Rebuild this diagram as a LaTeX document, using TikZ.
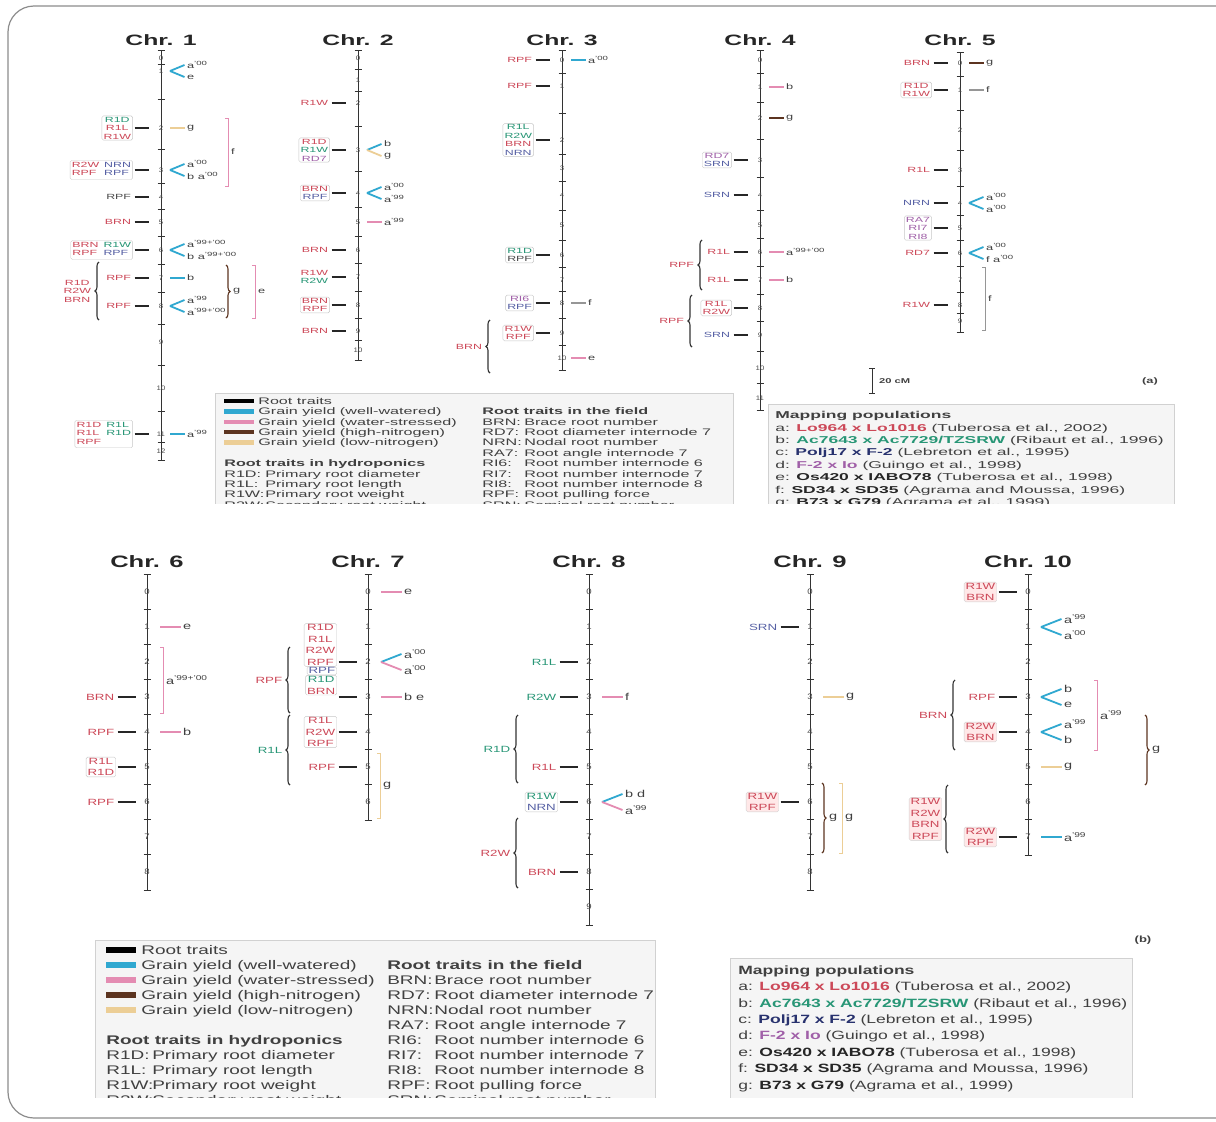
\documentclass[tikz,border=0pt]{standalone}
\usepackage{fontspec}
\setmainfont{Liberation Sans}
\usetikzlibrary{calc,positioning,decorations.pathreplacing}

\definecolor{cred}{RGB}{204,72,88}
\definecolor{cgrn}{RGB}{40,150,118}
\definecolor{cblu}{RGB}{86,96,164}
\definecolor{cpur}{RGB}{160,96,168}
\definecolor{cnavy}{RGB}{40,50,110}
\definecolor{qww}{RGB}{48,168,208}
\definecolor{qws}{RGB}{228,140,178}
\definecolor{qhn}{RGB}{92,52,32}
\definecolor{qln}{RGB}{236,206,150}
\definecolor{qgr}{RGB}{150,150,150}

\newcommand{\cR}[1]{\textcolor{cred}{#1}}
\newcommand{\cG}[1]{\textcolor{cgrn}{#1}}
\newcommand{\cB}[1]{\textcolor{cblu}{#1}}
\newcommand{\cP}[1]{\textcolor{cpur}{#1}}
\newcommand{\cK}[1]{\textcolor{black!70}{#1}}
\newcommand{\yr}[1]{\textsuperscript{’#1}}
\newcommand{\twocol}[1]{\begin{tabular}{@{}l@{\hspace{3pt}}l@{}}#1\end{tabular}}

\tikzset{
  axis/.style={line width=0.9pt, black!80},
  rootdash/.style={line width=2.8pt, black!85},
  qtl/.style={line width=1.8pt},
  box/.style={draw=black!22, fill=white, rounded corners=1.5pt},
  pbox/.style={draw=black!18, fill=red!9, rounded corners=1.5pt},
  lbrc/.style={decorate, decoration={brace, amplitude=4pt}, line width=1.1pt, black!80},
  rbrc/.style={decorate, decoration={brace, amplitude=4pt}, line width=1.1pt, qhn},
  brk/.style={line width=0.9pt},
  legbox/.style={draw=black!18, fill=black!4},
  frame/.style={draw=black!45, line width=1.2pt, rounded corners=26pt}
}

% one chromosome: name, x, title y, top, bottom, bin positions, title
\newcommand{\chrom}[7]{%
  \node[title] (#1t) at (#2,#3) {#7};
  \coordinate (#1top) at (#2,#4);
  \coordinate (#1bot) at (#2,#5);
  \draw[axis] (#1top) -- (#1bot);
  \draw[axis] ([xshift=-3.5pt]#1top) -- ([xshift=3.5pt]#1top);
  \draw[axis] ([xshift=-3.5pt]#1bot) -- ([xshift=3.5pt]#1bot);
  \foreach \yy [count=\k from 0, remember=\yy as \yp (initially #4)] in {#6} {
    \coordinate (#1-\k) at (#2,\yy);
    \node[digit] (#1n\k) at (#1-\k) {\k};
    \ifnum\k>0
      \coordinate (#1h\k) at (#2,{(\yy+\yp)/2});
      \draw[axis] ([xshift=-3.5pt]#1h\k) -- ([xshift=3.5pt]#1h\k);
    \fi
  }}
% root trait on the left of a bin
\newcommand{\lmark}[3][]{%
  \node[lab,#1,anchor=east] (#2L) at ([xshift=-\ldist]#2) {#3};
  \draw[rootdash] ([xshift=1.5pt]#2L.east) -- ([xshift=-\lend]#2);}
% yield QTL on the right of a bin
\newcommand{\qdash}[3]{%
  \node[rlab,anchor=west] (#1R) at ([xshift=\rdist]#1) {#3};
  \draw[qtl,#2] ([xshift=\rbeg]#1) -- ([xshift=-1.5pt]#1R.west);}
\newcommand{\qsplit}[5]{%
  \node[rlab,anchor=west] (#1Ra) at ([xshift=\rdist,yshift=\sph]#1) {#4};
  \node[rlab,anchor=west] (#1Rb) at ([xshift=\rdist,yshift=-\sph]#1) {#5};
  \draw[qtl,#2] ([xshift=\rbeg]#1) -- ([xshift=-1.5pt]#1Ra.west);
  \draw[qtl,#3] ([xshift=\rbeg]#1) -- ([xshift=-1.5pt]#1Rb.west);}
\newcommand{\qbrk}[6]{%
  \draw[brk,#2] ({#3-3},#4) -- (#3,#4) -- (#3,#5) -- ({#3-3},#5);
  \node[rlab,anchor=west] (#1) at ({#3+2},{(#4+#5)/2}) {#6};}
\newcommand{\qbrace}[6]{%
  \draw[rbrc,#2] (#3,#4) -- (#3,#5);
  \node[rlab,anchor=west] (#1) at ({#3+6},{(#4+#5)/2}) {#6};}
\newcommand{\tbrace}[6][]{%
  \draw[lbrc] (#3,#5) -- (#3,#4);
  \node[lab,#1,anchor=east] (#2) at ({#3-6},{(#4+#5)/2}) {#6};}

\begin{document}
\begin{tikzpicture}[x=1pt,y=-1pt]
\useasboundingbox (0,0) rectangle (1216,1122);

% ---------------- (a)
\begin{scope}[
  title/.style={font=\fontsize{15}{15}\selectfont\bfseries, text=black!85, xscale=1.65},
  lab/.style={font=\fontsize{7.5}{8.5}\selectfont, inner sep=1pt, align=center, xscale=1.65},
  rlab/.style={font=\fontsize{8}{9}\selectfont, text=black!75, inner sep=0.5pt, xscale=1.6},
  digit/.style={font=\fontsize{6.5}{7}\selectfont, text=black!70, inner sep=0pt, xscale=1.2},
  legt/.style={font=\fontsize{9.5}{10}\selectfont, text=black!75, inner sep=0pt, xscale=1.7},
  legh/.style={legt, font=\fontsize{9.5}{10}\selectfont\bfseries},
  mapt/.style={font=\fontsize{10}{11}\selectfont, text=black!75, inner sep=0pt, xscale=1.75}]
\def\ldist{28pt}\def\lend{12pt}\def\rdist{25pt}\def\rbeg{9pt}\def\sph{6pt}
\clip (0,0) rectangle (1216,503);

\chrom{c1}{161}{40}{50}{460}{58,71,128,170,197,222,250,278,306,342,388,434,451}{Chr. 1}
\qsplit{c1-1}{qww}{qww}{a\yr{00}}{e}
\lmark[box]{c1-2}{\cG{R1D}\\\cR{R1L}\\\cR{R1W}}
\qdash{c1-2}{qln}{g}
\lmark[box]{c1-3}{\twocol{\cR{R2W}&\cB{NRN}\\\cR{RPF}&\cB{RPF}}}
\qsplit{c1-3}{qww}{qww}{a\yr{00}}{b a\yr{00}}
\qbrk{c1f}{qws}{228}{118}{186}{f}
\lmark{c1-4}{\cK{RPF}}
\lmark{c1-5}{\cR{BRN}}
\lmark[box]{c1-6}{\twocol{\cR{BRN}&\cG{R1W}\\\cR{RPF}&\cB{RPF}}}
\qsplit{c1-6}{qww}{qww}{a\yr{99+’00}}{b a\yr{99+’00}}
\lmark{c1-7}{\cR{RPF}}
\qdash{c1-7}{qww}{b}
\lmark{c1-8}{\cR{RPF}}
\qsplit{c1-8}{qww}{qww}{a\yr{99}}{a\yr{99+’00}}
\tbrace{c1b}{99}{262}{320}{\cR{R1D}\\\cR{R2W}\\\cR{BRN}}
\qbrace{c1g}{}{226}{265}{318}{g}
\qbrk{c1e}{qws}{255}{265}{318}{e}
\lmark[box]{c1-11}{\twocol{\cR{R1D}&\cG{R1L}\\\cR{R1L}&\cG{R1D}\\\cR{RPF}&}}
\qdash{c1-11}{qww}{a\yr{99}}

\chrom{c2}{358}{40}{50}{360}{58,80,103,150,193,222,250,277,305,331,350}{Chr. 2}
\lmark{c2-2}{\cR{R1W}}
\lmark[box]{c2-3}{\cR{R1D}\\\cG{R1W}\\\cP{RD7}}
\qsplit{c2-3}{qww}{qln}{b}{g}
\lmark[box]{c2-4}{\cR{BRN}\\\cB{RPF}}
\qsplit{c2-4}{qww}{qww}{a\yr{00}}{a\yr{99}}
\qdash{c2-5}{qws}{a\yr{99}}
\lmark{c2-6}{\cR{BRN}}
\lmark{c2-7}{\cR{R1W}\\\cG{R2W}}
\lmark[box]{c2-8}{\cR{BRN}\\\cR{RPF}}
\lmark{c2-9}{\cR{BRN}}

\chrom{c3}{562}{40}{50}{370}{60,86,140,168,195,225,255,280,303,333,358}{Chr. 3}
\lmark{c3-0}{\cR{RPF}}
\qdash{c3-0}{qww}{a\yr{00}}
\lmark{c3-1}{\cR{RPF}}
\lmark[box]{c3-2}{\cG{R1L}\\\cG{R2W}\\\cR{BRN}\\\cB{NRN}}
\lmark[box]{c3-6}{\cG{R1D}\\\cK{RPF}}
\lmark[box]{c3-8}{\cP{RI6}\\\cB{RPF}}
\qdash{c3-8}{qgr}{f}
\lmark[box]{c3-9}{\cR{R1W}\\\cR{RPF}}
\tbrace{c3b}{490}{320}{373}{\cR{BRN}}
\qdash{c3-10}{qws}{e}

\chrom{c4}{760}{40}{50}{410}{60,87,118,160,195,225,252,280,308,335,368,398}{Chr. 4}
\qdash{c4-1}{qws}{b}
\qdash{c4-2}{qhn}{g}
\lmark[box]{c4-3}{\cP{RD7}\\\cB{SRN}}
\lmark{c4-4}{\cB{SRN}}
\lmark{c4-6}{\cR{R1L}}
\qdash{c4-6}{qws}{a\yr{99+’00}}
\lmark{c4-7}{\cR{R1L}}
\qdash{c4-7}{qws}{b}
\tbrace{c4b1}{702}{240}{290}{\cR{RPF}}
\lmark[box]{c4-8}{\cR{R1L}\\\cR{R2W}}
\lmark{c4-9}{\cB{SRN}}
\tbrace{c4b2}{692}{295}{347}{\cR{RPF}}

\chrom{c5}{960}{40}{52}{332}{63,90,130,170,203,228,253,280,305,321}{Chr. 5}
\lmark{c5-0}{\cR{BRN}}
\qdash{c5-0}{qhn}{g}
\lmark[box]{c5-1}{\cR{R1D}\\\cR{R1W}}
\qdash{c5-1}{qgr}{f}
\lmark{c5-3}{\cR{R1L}}
\lmark{c5-4}{\cB{NRN}}
\qsplit{c5-4}{qww}{qww}{a\yr{00}}{a\yr{00}}
\lmark[box]{c5-5}{\cP{RA7}\\\cP{RI7}\\\cP{RI8}}
\lmark{c5-6}{\cR{RD7}}
\qsplit{c5-6}{qww}{qww}{a\yr{00}}{f a\yr{00}}
\qbrk{c5f}{qgr}{985}{267}{330}{f}
\lmark{c5-8}{\cR{R1W}}

% scale bar
\draw[axis] (872,368) -- (872,393);
\draw[axis] (869,368) -- (875,368);
\draw[axis] (869,393) -- (875,393);
\node[rlab, font=\fontsize{7}{8}\selectfont\bfseries, anchor=west] (cm) at (878,381) {20 cM};
\node[rlab, font=\fontsize{8}{9}\selectfont\bfseries] (pa) at (1150,381) {(a)};

% legend
\draw[legbox] (215,393) rectangle (733,520);
\foreach \col/\txt [count=\k from 0] in {black/Root traits, qww/Grain yield (well-watered), qws/Grain yield (water-stressed), qhn/Grain yield (high-nitrogen), qln/Grain yield (low-nitrogen)} {
  \draw[line width=4.5pt,\col] (224,{401+10.4*\k}) -- (254,{401+10.4*\k});
  \node[legt,anchor=base west] (ka\k) at (258,{401+10.4*\k+3.3}) {\txt};
}
\node[legh,anchor=base west] (kh) at (224,{401+10.4*6+3.3}) {Root traits in hydroponics};
\foreach \ab/\ds [count=\k from 7] in {R1D:/Primary root diameter, R1L:/Primary root length, R1W:/Primary root weight, R2W:/Secondary root weight} {
  \node[legt,anchor=base west] (kl\k) at (224,{401+10.4*\k+3.3}) {\ab};
  \node[legt,anchor=base west] (kd\k) at (265,{401+10.4*\k+3.3}) {\ds};
}
\node[legh,anchor=base west] (kf) at (482,{401+10.4+3.3}) {Root traits in the field};
\foreach \ab/\ds [count=\k from 2] in {BRN:/Brace root number, RD7:/Root diameter internode 7, NRN:/Nodal root number, RA7:/Root angle internode 7, RI6:/Root number internode 6, RI7:/Root number internode 7, RI8:/Root number internode 8, RPF:/Root pulling force, SRN:/Seminal root number} {
  \node[legt,anchor=base west] (kr\k) at (482,{401+10.4*\k+3.3}) {\ab};
  \node[legt,anchor=base west] (kq\k) at (524,{401+10.4*\k+3.3}) {\ds};
}

% mapping populations
\draw[legbox] (768,404) rectangle (1174,520);
\node[mapt,font=\fontsize{10}{11}\selectfont\bfseries,anchor=base west] (mh) at (775,{415+3.6}) {Mapping populations};
\foreach \l/\p/\r [count=\k] in {a/{\color{cred}Lo964 x Lo1016}/{(Tuberosa et al., 2002)}, b/{\color{cgrn}Ac7643 x Ac7729/TZSRW}/{(Ribaut et al., 1996)}, c/{\color{cnavy}Polj17 x F-2}/{(Lebreton et al., 1995)}, d/{\color{cpur}F-2 x Io}/{(Guingo et al., 1998)}, e/{\color{black!85}Os420 x IABO78}/{(Tuberosa et al., 1998)}, f/{\color{black!85}SD34 x SD35}/{(Agrama and Moussa, 1996)}, g/{\color{black!85}B73 x G79}/{(Agrama et al., 1999)}} {
  \node[mapt,anchor=base west] (m\l) at (775,{415+12.4*\k+3.6}) {\l: {\bfseries\p} \r};
}
\end{scope}

% ---------------- (b)
\begin{scope}[
  title/.style={font=\fontsize{16.5}{16.5}\selectfont\bfseries, text=black!85, xscale=1.55},
  lab/.style={font=\fontsize{9}{11.5}\selectfont, inner sep=1pt, align=center, xscale=1.48},
  rlab/.style={font=\fontsize{10}{11}\selectfont, text=black!75, inner sep=0.5pt, xscale=1.45},
  digit/.style={font=\fontsize{8}{8}\selectfont, text=black!70, inner sep=0pt, xscale=1.2},
  legt/.style={font=\fontsize{12.5}{13}\selectfont, text=black!75, inner sep=0pt, xscale=1.52},
  legh/.style={legt, font=\fontsize{12.5}{13}\selectfont\bfseries},
  mapt/.style={font=\fontsize{12}{13}\selectfont, text=black!75, inner sep=0pt, xscale=1.46}]
\def\ldist{31pt}\def\lend{11pt}\def\rdist{35pt}\def\rbeg{13pt}\def\sph{8pt}
\clip (0,0) rectangle (1216,1097);

\chrom{c6}{147}{562}{574}{890}{592,627,662,697,732,767,802,837,872}{Chr. 6}
\qdash{c6-1}{qws}{e}
\qbrk{c6a}{qws}{163}{647}{713}{a\yr{99+’00}}
\lmark{c6-3}{\cR{BRN}}
\lmark{c6-4}{\cR{RPF}}
\qdash{c6-4}{qws}{b}
\lmark[box]{c6-5}{\cR{R1L}\\\cR{R1D}}
\lmark{c6-6}{\cR{RPF}}

\chrom{c7}{368}{562}{574}{820}{592,627,662,697,732,767,802}{Chr. 7}
\qdash{c7-0}{qws}{e}
\node[lab,box,anchor=east] (c7s1) at ([xshift=-\ldist,yshift=17pt]c7-2) {\cR{R1D}\\\cR{R1L}\\\cR{R2W}\\\cR{RPF}};
\node[lab,box,anchor=north east] (c7s2) at (c7s1.south east) {\cB{RPF}};
\node[lab,box,anchor=north east] (c7s3) at (c7s2.south east) {\cG{R1D}\\\cR{BRN}};
\draw[rootdash] ($(c7s1.east |- c7-2)+(1.5,0)$) -- ([xshift=-\lend]c7-2);
\draw[rootdash] ($(c7s3.east |- c7-3)+(1.5,0)$) -- ([xshift=-\lend]c7-3);
\qsplit{c7-2}{qww}{qws}{a\yr{00}}{a\yr{00}}
\qdash{c7-3}{qws}{b e}
\tbrace{c7b1}{290}{647}{713}{\cR{RPF}}
\lmark[box]{c7-4}{\cR{R1L}\\\cR{R2W}\\\cR{RPF}}
\tbrace{c7b2}{290}{715}{785}{\cG{R1L}}
\lmark{c7-5}{\cR{RPF}}
\qbrk{c7g}{qln}{380}{753}{818}{g}

\chrom{c8}{589}{562}{574}{925}{592,627,662,697,732,767,802,837,872,907}{Chr. 8}
\lmark{c8-2}{\cG{R1L}}
\lmark{c8-3}{\cG{R2W}}
\qdash{c8-3}{qws}{f}
\tbrace{c8b1}{518}{715}{783}{\cG{R1D}}
\lmark{c8-5}{\cR{R1L}}
\lmark[box]{c8-6}{\cG{R1W}\\\cB{NRN}}
\qsplit{c8-6}{qww}{qws}{b d}{a\yr{99}}
\tbrace{c8b2}{518}{818}{888}{\cR{R2W}}
\lmark{c8-8}{\cR{BRN}}

\chrom{c9}{810}{562}{574}{890}{592,627,662,697,732,767,802,837,872}{Chr. 9}
\lmark{c9-1}{\cB{SRN}}
\qdash{c9-3}{qln}{g}
\lmark[pbox]{c9-6}{\cR{R1W}\\\cR{RPF}}
\qbrace{c9g1}{}{822}{783}{853}{g}
\qbrk{c9g2}{qln}{842}{783}{853}{g}

\chrom{c10}{1028}{562}{574}{855}{592,627,662,697,732,767,802,837}{Chr. 10}
\lmark[pbox]{c10-0}{\cR{R1W}\\\cR{BRN}}
\qsplit{c10-1}{qww}{qww}{a\yr{99}}{a\yr{00}}
\lmark{c10-3}{\cR{RPF}}
\qsplit{c10-3}{qww}{qww}{b}{e}
\lmark[pbox]{c10-4}{\cR{R2W}\\\cR{BRN}}
\qsplit{c10-4}{qww}{qww}{a\yr{99}}{b}
\tbrace{c10b1}{955}{680}{750}{\cR{BRN}}
\qbrk{c10a}{qws}{1097}{680}{750}{a\yr{99}}
\qbrace{c10g}{}{1145}{715}{785}{g}
\qdash{c10-5}{qln}{g}
\lmark[pbox]{c10-7}{\cR{R2W}\\\cR{RPF}}
\qdash{c10-7}{qww}{a\yr{99}}
\tbrace[pbox]{c10b2}{948}{785}{853}{\cR{R1W}\\\cR{R2W}\\\cR{BRN}\\\cR{RPF}}

\node[rlab, font=\fontsize{9}{10}\selectfont\bfseries] (pb) at (1143,940) {(b)};

% legend
\draw[legbox] (95,940) rectangle (655,1110);
\foreach \col/\txt [count=\k from 0] in {black/Root traits, qww/Grain yield (well-watered), qws/Grain yield (water-stressed), qhn/Grain yield (high-nitrogen), qln/Grain yield (low-nitrogen)} {
  \draw[line width=6pt,\col] (106,{950+15*\k}) -- (136,{950+15*\k});
  \node[legt,anchor=base west] (la\k) at (141,{950+15*\k+4.5}) {\txt};
}
\node[legh,anchor=base west] (lh) at (106,{950+15*6+4.5}) {Root traits in hydroponics};
\foreach \ab/\ds [count=\k from 7] in {R1D:/Primary root diameter, R1L:/Primary root length, R1W:/Primary root weight, R2W:/Secondary root weight} {
  \node[legt,anchor=base west] (ll\k) at (106,{950+15*\k+4.5}) {\ab};
  \node[legt,anchor=base west] (ld\k) at (152,{950+15*\k+4.5}) {\ds};
}
\node[legh,anchor=base west] (lf) at (387,{950+15+4.5}) {Root traits in the field};
\foreach \ab/\ds [count=\k from 2] in {BRN:/Brace root number, RD7:/Root diameter internode 7, NRN:/Nodal root number, RA7:/Root angle internode 7, RI6:/Root number internode 6, RI7:/Root number internode 7, RI8:/Root number internode 8, RPF:/Root pulling force, SRN:/Seminal root number} {
  \node[legt,anchor=base west] (lr\k) at (387,{950+15*\k+4.5}) {\ab};
  \node[legt,anchor=base west] (lq\k) at (434,{950+15*\k+4.5}) {\ds};
}

% mapping populations
\draw[legbox] (730,958) rectangle (1132,1110);
\node[mapt,font=\fontsize{12}{13}\selectfont\bfseries,anchor=base west] (nh) at (738,{970+4.3}) {Mapping populations};
\foreach \l/\p/\r [count=\k] in {a/{\color{cred}Lo964 x Lo1016}/{(Tuberosa et al., 2002)}, b/{\color{cgrn}Ac7643 x Ac7729/TZSRW}/{(Ribaut et al., 1996)}, c/{\color{cnavy}Polj17 x F-2}/{(Lebreton et al., 1995)}, d/{\color{cpur}F-2 x Io}/{(Guingo et al., 1998)}, e/{\color{black!85}Os420 x IABO78}/{(Tuberosa et al., 1998)}, f/{\color{black!85}SD34 x SD35}/{(Agrama and Moussa, 1996)}, g/{\color{black!85}B73 x G79}/{(Agrama et al., 1999)}} {
  \node[mapt,anchor=base west] (n\l) at (738,{970+16.4*\k+4.3}) {\l: {\bfseries\p} \r};
}
\end{scope}

\draw[frame] (1216,6) -- (8,6) -- (8,1118) -- (1216,1118);
\end{tikzpicture}
\end{document}
